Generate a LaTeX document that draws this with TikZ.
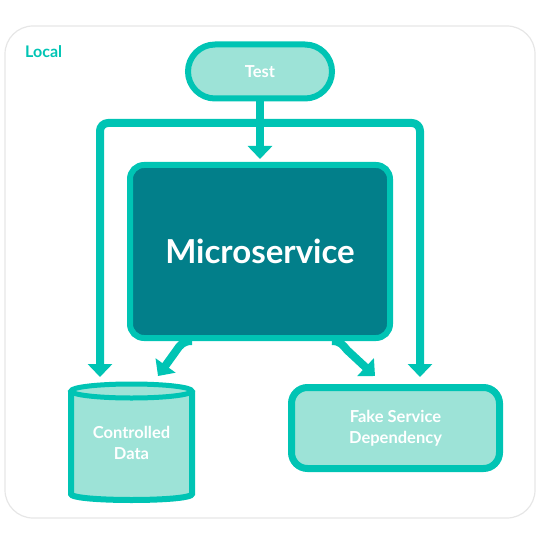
\documentclass[tikz,border=0pt]{standalone}
\usepackage{fontspec}
\setmainfont{Lato}
\usetikzlibrary{arrows.meta,calc}
\definecolor{tealA}{HTML}{00C4B4}
\definecolor{tealL}{HTML}{9DE3D7}
\definecolor{tealD}{HTML}{027F8A}
\definecolor{frameC}{HTML}{E6E6E6}
\begin{document}
\begin{tikzpicture}[x=1pt,y=-1pt,
  lbl/.style={text=white,font=\bfseries\fontsize{16.5}{19}\selectfont,align=center,inner sep=0pt},
  box/.style={lbl,draw=tealA,fill=tealL,line width=6pt},
  conn/.style={draw=tealA,line width=8pt,line join=round,-{Triangle[length=13pt,width=24pt]}},
]
\useasboundingbox (0,0) rectangle (540,545);
\draw[frameC,line width=1.2pt,rounded corners=28pt] (5,26) rectangle (535,518);
\node[anchor=base west,text=tealA,font=\bfseries\fontsize{16}{19}\selectfont,inner sep=0pt] (local) at (25,58) {Local};

% nodes
\node[box,rounded corners=27pt,minimum width=144pt,minimum height=54pt] (test) at (260,71.5) {Test};
\node[draw=tealA,fill=tealD,line width=6pt,rounded corners=14pt,minimum width=260pt,minimum height=173pt,
      text=white,font=\bfseries\fontsize{33}{38}\selectfont] (ms) at (260,251.5) {Microservice};
\node[box,line width=7pt,rounded corners=16pt,minimum width=208pt,minimum height=81pt] (fake) at (395.5,428)
  {Fake Service\\[2pt]Dependency};

% cylinder
\path[fill=tealL] (71,391) -- (71,494) .. controls (71,502) and (192,502) .. (192,494) -- (192,391) -- cycle;
\draw[tealA,line width=6pt] (71,391) -- (71,494) .. controls (71,502) and (192,502) .. (192,494) -- (192,391);
\draw[tealA,line width=5pt,fill=tealL] (131.5,391) ellipse [x radius=60.5pt,y radius=7pt];
\node[lbl] (data) at (131.5,443) {Controlled\\[2pt]Data};

% connector coordinates
\coordinate (split) at (260,123);
\coordinate (ltip) at (100,377);
\coordinate (rtip) at (420,377);
\coordinate (msl) at ($(ms.south)+(-68,0)$);
\coordinate (msr) at ($(ms.south)+(72,0)$);
\coordinate (dtip) at (158,376);
\coordinate (ftip) at (375,376);

% connectors
\draw[conn,shorten >=3pt] (test.south) -- (ms.north);
\draw[conn,rounded corners=8pt] (split) -| (ltip);
\draw[conn,rounded corners=8pt] (split) -| (rtip);
\draw[conn] (msl) .. controls ($(msl)+(-9,0)$) and ($(msl)+(-12,4)$) .. ($(msl)+(-16,10)$) -- (dtip);
\draw[conn] (msr) .. controls ($(msr)+(8,0)$) and ($(msr)+(11,4)$) .. ($(msr)+(15,9)$) -- (ftip);
\end{tikzpicture}
\end{document}
